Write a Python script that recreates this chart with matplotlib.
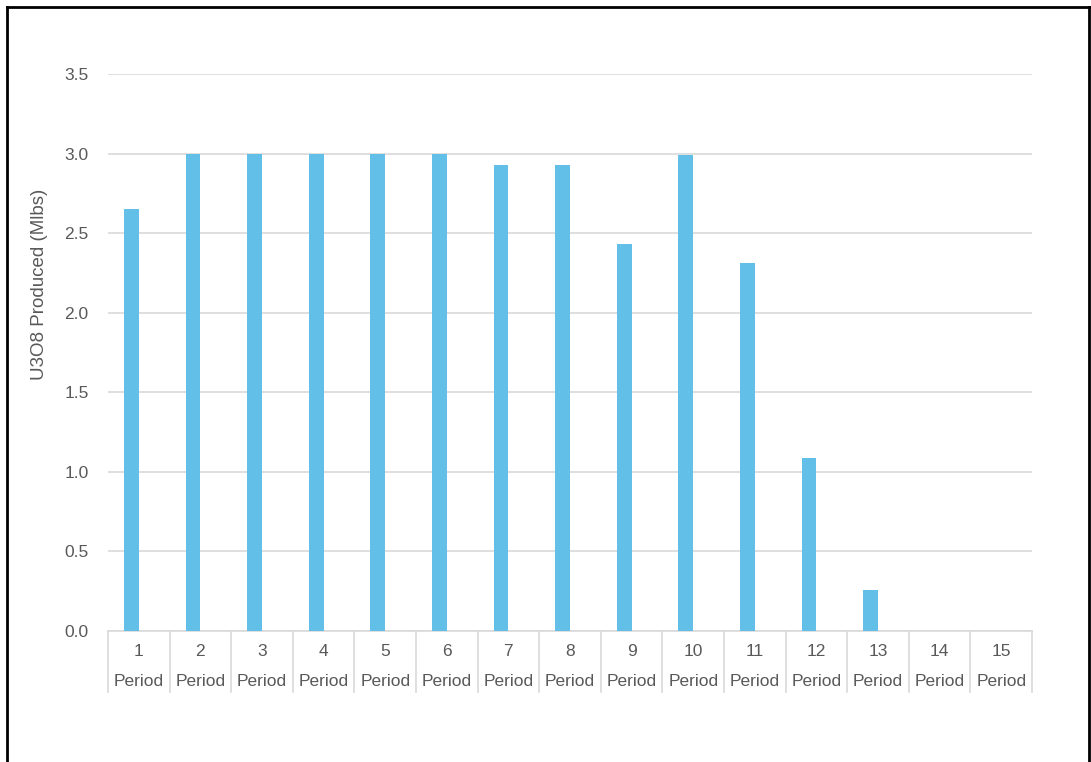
import matplotlib
import matplotlib.pyplot as plt
from matplotlib.lines import Line2D

matplotlib.use("Agg")

periods = list(range(1, 16))
produced = [2.65, 3.0, 3.0, 3.0, 3.0, 3.0, 2.93, 2.93, 2.43, 2.99, 2.31, 1.09, 0.26, 0.0, 0.0]
y_ticks = [0.0, 0.5, 1.0, 1.5, 2.0, 2.5, 3.0, 3.5]

TEXT = "#595959"
GRID = "#d9d9d9"
BAR = "#62c0e8"

plt.rcParams['font.family'] = ['Liberation Sans', 'DejaVu Sans']

fig = plt.figure(figsize=(10.91, 7.62), dpi=100)
W, H = 1091, 762
ax = fig.add_axes([108 / W, 1 - 631 / H, (1032 - 108) / W, (631 - 74) / H])

# bars sit just left of each category centre
ax.bar(periods, produced, width=-0.24, align="edge", color=BAR, zorder=3)

ax.set_xlim(0.5, 15.5)
ax.set_ylim(0, 3.5)
ax.set_yticks(y_ticks)
ax.set_yticklabels([f"{v:.1f}" for v in y_ticks])
ax.tick_params(axis="y", length=0, pad=14, labelsize=12.5, labelcolor=TEXT)
ax.set_xticks([])
ax.grid(axis="y", color=GRID, linewidth=1.2, zorder=0)
for side in ["top", "right", "left"]:
    ax.spines[side].set_visible(False)
ax.spines["bottom"].set_color(GRID)
ax.spines["bottom"].set_linewidth(1.2)

# two-line category labels with separators under the axis
trans = ax.get_xaxis_transform()
for p in periods:
    ax.text(p, -0.036, str(p), transform=trans, ha="center", va="center",
            fontsize=12.5, color=TEXT)
    ax.text(p, -0.09, "Period", transform=trans, ha="center", va="center",
            fontsize=12.5, color=TEXT)
for edge in [x + 0.5 for x in range(0, 16)]:
    ax.add_line(Line2D([edge, edge], [0, -0.11], transform=trans, color=GRID,
                       linewidth=1.2, clip_on=False))

fig.text(40 / W, 1 - 284 / H, "U3O8 Produced (Mlbs)", rotation=90,
         ha="center", va="center", fontsize=13.5, color=TEXT)

# outer frame
for xs, ys in [([7, 7], [7, H]), ([7, W], [7, 7]), ([1089, 1089], [7, H])]:
    fig.add_artist(Line2D([x / W for x in xs], [1 - y / H for y in ys],
                          transform=fig.transFigure, color="black", linewidth=2))

fig.savefig("out.png", dpi=100)
